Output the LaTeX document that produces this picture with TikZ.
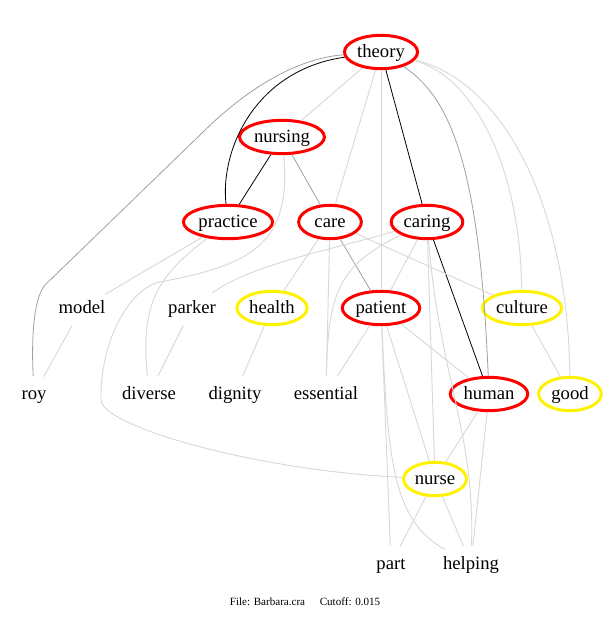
\documentclass[tikz,border=0pt]{standalone}
\usepackage{fontspec}
\setmainfont{Liberation Serif}
\usepackage{xcolor}
\usepackage{tikz}
\usetikzlibrary{shapes.geometric}

\definecolor{linkgray}{HTML}{A0A0A0}
\definecolor{linklight}{HTML}{D8D8D8}

\begin{document}
\begin{tikzpicture}[
    x=0.75pt, y=-0.75pt,
    every node/.style={font=\fontsize{14}{16}\selectfont, text height=11pt, text depth=3pt},
    keyterm/.style={draw=red, ellipse, line width=2.25pt, minimum width=47pt, minimum height=25pt, inner xsep=1.5pt, inner ysep=0pt},
    subterm/.style={keyterm, draw=yellow},
    word/.style={ellipse, minimum width=47pt, minimum height=27pt, inner xsep=1pt, inner ysep=0pt},
    strong/.style={draw=black, line width=0.6pt},
    medium/.style={draw=linkgray, line width=0.6pt},
    weak/.style={draw=linklight, line width=0.7pt}
]
\useasboundingbox (0,0) rectangle (608,617);

\node[keyterm] (theory) at (381,52) {theory};
\node[keyterm] (nursing) at (282,137) {nursing};
\node[keyterm] (practice) at (228,222) {practice};
\node[keyterm] (care) at (330,222) {care};
\node[keyterm] (caring) at (427,222) {caring};
\node[word] (model) at (82,308) {model};
\node[word] (parker) at (192,308) {parker};
\node[subterm] (health) at (272,308) {health};
\node[keyterm] (patient) at (381,308) {patient};
\node[subterm] (culture) at (522,308) {culture};
\node[word] (roy) at (34,394) {roy};
\node[word] (diverse) at (149,394) {diverse};
\node[word] (dignity) at (235,394) {dignity};
\node[word] (essential) at (326,394) {essential};
\node[keyterm] (human) at (489,394) {human};
\node[subterm] (good) at (570,394) {good};
\node[subterm] (nurse) at (435,479) {nurse};
\node[word] (part) at (391,564) {part};
\node[word] (helping) at (471,564) {helping};
\node[font=\fontsize{8.3}{10}\selectfont, text height=6pt, text depth=2pt] (footer) at (305,603) {File: Barbara.cra\hspace{11pt}Cutoff: 0.015};

\draw[strong] (theory) .. controls (255,70) and (220,150) .. (practice);
\draw[strong] (theory) -- (caring);
\draw[strong] (nursing) -- (practice);
\draw[strong] (caring) -- (human);

\draw[medium] (theory) .. controls (300,58) and (250,85) .. (200,135) -- (45,285) .. controls (35,297) and (31,330) .. (roy);
\draw[medium] (theory) .. controls (455,100) and (480,180) .. (human);
\draw[medium] (nursing) -- (care);
\draw[medium] (care) -- (patient);

\draw[weak] (theory) -- (nursing);
\draw[weak] (theory) -- (care);
\draw[weak] (theory) -- (patient);
\draw[weak] (theory) .. controls (470,75) and (520,160) .. (culture);
\draw[weak] (theory) .. controls (500,80) and (568,200) .. (good);
\draw[weak] (nursing) .. controls (292,245) and (250,265) .. (160,282) .. controls (130,288) and (100,340) .. (101,400) .. controls (101,425) and (250,470) .. (nurse);
\draw[weak] (practice) -- (model);
\draw[weak] (practice) .. controls (160,275) and (140,300) .. (diverse);
\draw[weak] (care) -- (health);
\draw[weak] (care) -- (essential);
\draw[weak] (care) -- (culture);
\draw[weak] (caring) .. controls (330,250) and (250,265) .. (parker);
\draw[weak] (caring) .. controls (340,265) and (328,290) .. (essential);
\draw[weak] (caring) -- (patient);
\draw[weak] (caring) -- (nurse);
\draw[weak] (caring) .. controls (440,380) and (475,430) .. (helping);
\draw[weak] (model) -- (roy);
\draw[weak] (parker) -- (diverse);
\draw[weak] (health) -- (dignity);
\draw[weak] (patient) -- (essential);
\draw[weak] (patient) -- (human);
\draw[weak] (patient) -- (part);
\draw[weak] (patient) -- (nurse);
\draw[weak] (patient) .. controls (388,460) and (392,520) .. (helping);
\draw[weak] (culture) -- (good);
\draw[weak] (human) -- (nurse);
\draw[weak] (human) -- (helping);
\draw[weak] (nurse) -- (part);
\draw[weak] (nurse) -- (helping);
\end{tikzpicture}
\end{document}
